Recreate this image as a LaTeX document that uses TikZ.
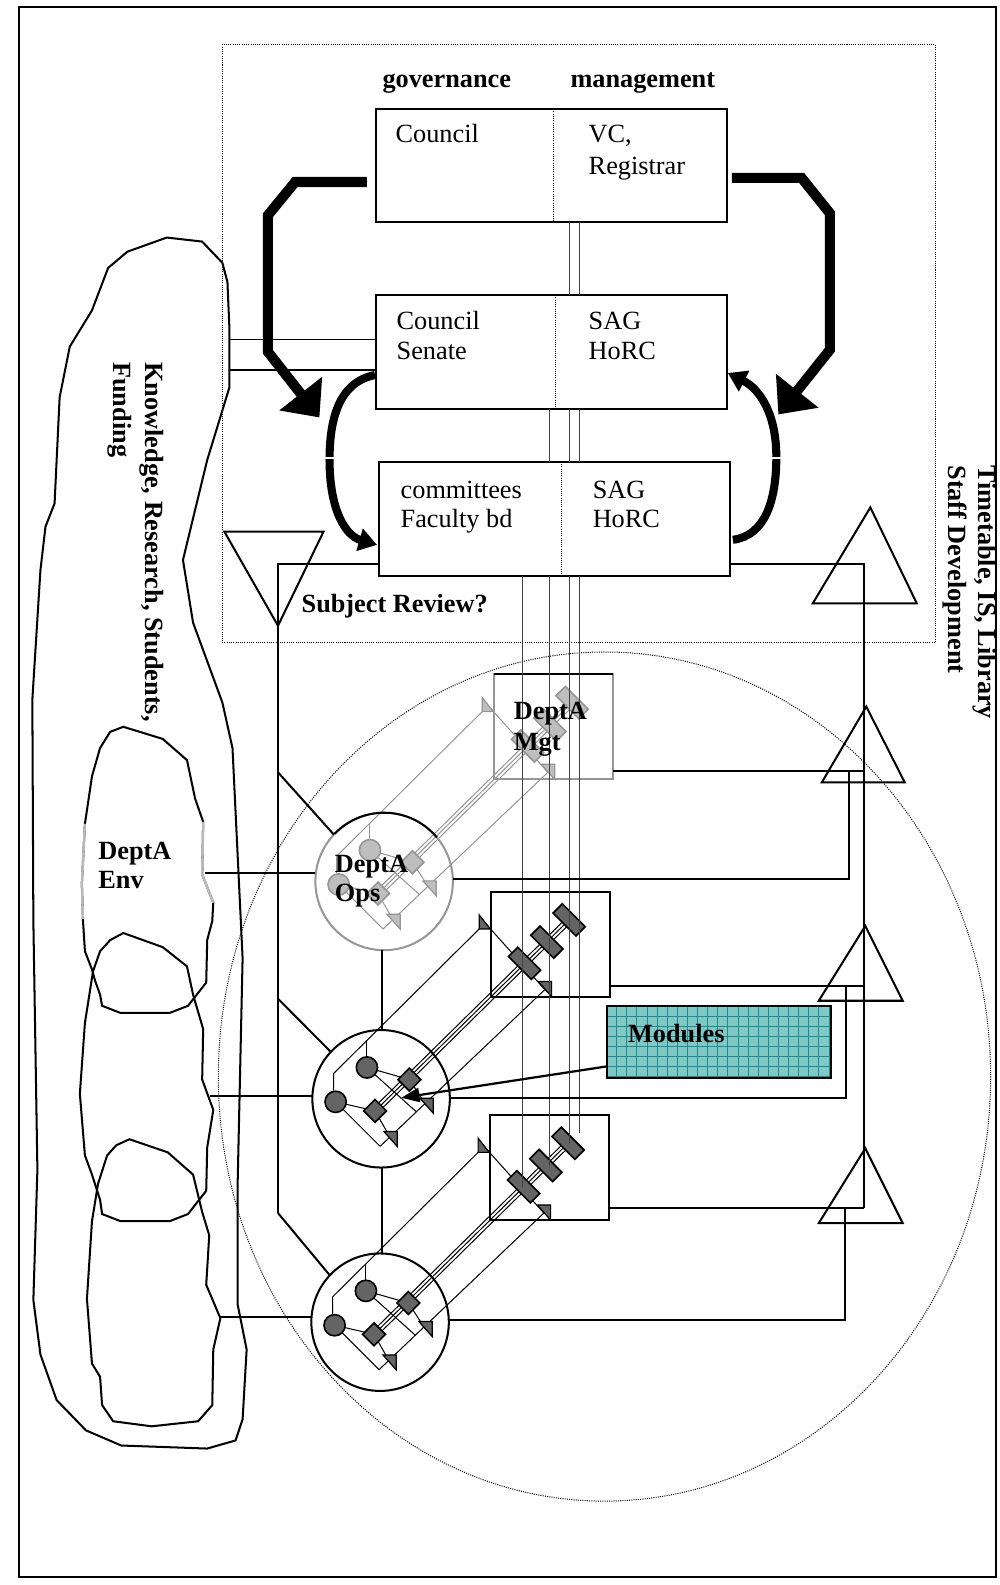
\documentclass[tikz,border=0pt]{standalone}
\usepackage{fontspec}
\setmainfont{Liberation Serif}
\usetikzlibrary{arrows.meta,fit,calc}

\definecolor{modfill}{RGB}{128,200,198}
\definecolor{modgrid}{RGB}{30,140,140}
\definecolor{glyphdark}{RGB}{100,100,100}
\definecolor{glyphpale}{RGB}{190,190,190}
\definecolor{linepale}{RGB}{150,150,150}

\tikzset{
  txt/.style={inner sep=0pt, anchor=base west, font=\fontsize{13pt}{15pt}\selectfont},
  btxt/.style={inner sep=0pt, anchor=base west, font=\fontsize{13pt}{15pt}\selectfont\bfseries},
  vtxt/.style={btxt, rotate=-90},
  boxframe/.style={draw, line width=1pt, inner sep=0pt, outer sep=0pt},
  conn/.style={line width=1pt},
  thinconn/.style={line width=0.8pt},
  dotline/.style={line width=0.5pt, dash pattern=on 0.5pt off 0.6pt},
  bigarrow/.style={line width=5pt, line join=miter, -{Triangle[length=15pt,width=26pt]}},
  curvearrow/.style={line width=4pt, -{Triangle[length=9pt,width=11pt]}},
  stackline/.style={line width=0.5pt, draw=black!75},
  opentri/.style={draw, line width=1pt, line join=miter},
  blob/.style={draw, line width=1pt, line join=miter},
  gl/.style={line width=0.8pt, inner sep=0pt, outer sep=0pt},
}

% One department: operations circle with its management box above right.
% #1 name prefix, #2 circle centre, #3 glyph fill, #4 glyph/line colour, #5 frame colour
\newcommand{\deptunit}[5]{%
  \begin{scope}[shift={#2}]
    \node[boxframe, draw=#5, fill=white, minimum width=58.5pt, minimum height=52pt] (#1box) at (167.5,-153) {};
    \node[boxframe, draw=#5, fill=white, circle, minimum size=68pt] (#1circ) at (0,0) {};
    \begin{scope}[line width=0.5pt, #4]
      \draw (-47,-8) -- (-47,-25) -- (97,-168);
      \draw (-14,-42) -- (-14,-58);
      \draw (102,-175) -- (162,-108);
      \draw (-1,47) -- (162,-108);
      \draw (-14,-31) -- (35,13);
      \draw (-45,3) -- (-1,47);
      \draw (-14,-31) -- (28,-19);
      \draw (-45,3) -- (-6,12);
      \draw (28,-19) -- (45,7);
      \draw (-6,12) -- (10,40);
      \foreach \o in {-2.2,0,2.2}
        \draw[shift={(\o,\o)}] (-6,12) -- (186,-177);
    \end{scope}
    \node[gl, draw=#4, fill=#3, circle, minimum size=10.5pt] (#1a) at (-14,-31) {};
    \node[gl, draw=#4, fill=#3, circle, minimum size=10.5pt] (#1b) at (-45,3) {};
    \node[gl, draw=#4, fill=#3, minimum size=8pt, rotate=45] (#1c) at (28,-19) {};
    \node[gl, draw=#4, fill=#3, minimum size=8pt, rotate=45] (#1d) at (-6,12) {};
    \node[gl, draw=#4, fill=#3, minimum width=16pt, minimum height=6.5pt, rotate=-45] (#1r1) at (142,-134) {};
    \node[gl, draw=#4, fill=#3, minimum width=16pt, minimum height=6.5pt, rotate=-45] (#1r2) at (164,-155) {};
    \node[gl, draw=#4, fill=#3, minimum width=16pt, minimum height=6.5pt, rotate=-45] (#1r3) at (186,-177) {};
    \filldraw[draw=#4, fill=#3, line width=0.6pt] (97,-182) -- (97,-168) -- (108,-168) -- cycle;
    \filldraw[draw=#4, fill=#3, line width=0.6pt] (155.5,-116) -- (168.7,-116) -- (168.7,-101) -- cycle;
    \filldraw[draw=#4, fill=#3, line width=0.6pt] (38.4,-0.6) -- (51.6,-0.6) -- (51.6,14.2) -- cycle;
    \filldraw[draw=#4, fill=#3, line width=0.6pt] (2.8,32.4) -- (16,32.4) -- (16,47.2) -- cycle;
  \end{scope}}

\begin{document}
\begin{tikzpicture}[x=0.5pt, y=-0.5pt]
\useasboundingbox (0,0) rectangle (989,1568);
\draw[line width=1pt] (19,7) rectangle (985,1560);

% environment blobs
\draw[blob] (126,249) -- (165,235) -- (200,239) -- (220,260) -- (225,279) -- (227,326) -- (227,383) -- (220,406) -- (205,455) -- (181,554) -- (191,616) -- (220,695) -- (230,740) -- (240,948) -- (235,1175) -- (235,1290) -- (244,1335) -- (240,1404) -- (233,1425) -- (205,1433) -- (120,1430) -- (85,1415) -- (56,1385) -- (40,1340) -- (33,1286) -- (37,1157) -- (33,911) -- (32,692) -- (40,564) -- (45,521) -- (54,498) -- (59,393) -- (69,343) -- (91,307) -- (107,265) -- cycle;
\draw[blob] (109,724) -- (122,719) -- (161,731) -- (185,752) -- (193,790) -- (201,813) -- (200,865) -- (211,893) -- (210,911) -- (205,930) -- (204,972) -- (186,995) -- (168,1002) -- (119,1002) -- (101,995) -- (99,984) -- (94,970) -- (91,959) -- (84,941) -- (82,909) -- (81,874) -- (84,815) -- (91,768) -- (99,740) -- cycle;
\draw[line width=1.2pt, gray!55] (84,815) -- (81,874) -- (82,909);
\draw[line width=1.2pt, gray!55] (201,813) -- (200,865) -- (211,893);
\draw[blob] (109,930) -- (122,923) -- (161,937) -- (185,956) -- (191,984) -- (201,1018) -- (200,1068) -- (211,1098) -- (205,1135) -- (204,1178) -- (186,1201) -- (168,1208) -- (119,1208) -- (101,1201) -- (99,1187) -- (91,1162) -- (84,1143) -- (79,1082) -- (84,1012) -- (92,961) -- (99,941) -- cycle;
\draw[blob] (115,1133) -- (128,1127) -- (166,1140) -- (191,1162) -- (200,1199) -- (207,1222) -- (204,1271) -- (218,1304) -- (211,1335) -- (210,1390) -- (196,1406) -- (150,1411) -- (112,1406) -- (101,1390) -- (99,1362) -- (91,1349) -- (86,1285) -- (91,1208) -- (97,1171) -- (106,1143) -- cycle;

\node[vtxt] (kn1) at (144,358) {Knowledge, Research, Students,};
\node[vtxt] (kn2) at (112,358) {Funding};
\node[btxt] (env1) at (97,850) {DeptA};
\node[btxt] (env2) at (97,879) {Env};

% dotted boundaries
\draw[dotline] (220,44) rectangle (925,636);
\draw[dotline] (598,1065) ellipse [x radius=382, y radius=420];

% governance / management boxes
\node[btxt] (hgov) at (378,87) {governance};
\node[btxt] (hmgt) at (564,87) {management};
\node[boxframe, fit={(372,108)(719,220)}] (box1) {};
\node[boxframe, fit={(372,292)(719,405)}] (box2) {};
\node[boxframe, fit={(375,457)(722,570)}] (box3) {};
\draw[dotline] (548,0 |- box1.north) -- (548,0 |- box1.south);
\draw[dotline] (550,0 |- box2.north) -- (550,0 |- box2.south);
\draw[dotline] (555,0 |- box3.north) -- (555,0 |- box3.south);
\node[txt] (t1a) at (391,141) {Council};
\node[txt] (t1b) at (582,141) {VC,};
\node[txt] (t1c) at (582,173) {Registrar};
\node[txt] (t2a) at (392,326) {Council};
\node[txt] (t2b) at (392,356) {Senate};
\node[txt] (t2c) at (582,326) {SAG};
\node[txt] (t2d) at (582,356) {HoRC};
\node[txt] (t3a) at (396,493) {committees};
\node[txt] (t3b) at (396,522) {Faculty bd};
\node[txt] (t3c) at (586,493) {SAG};
\node[txt] (t3d) at (586,522) {HoRC};

% links between the boxes
\draw[stackline] (563,0 |- box1.south) -- (563,0 |- box2.north);
\draw[stackline] (573,0 |- box1.south) -- (573,0 |- box2.north);
\draw[stackline] (544,0 |- box2.south) -- (544,0 |- box3.north);
\draw[stackline] (563,0 |- box2.south) -- (563,0 |- box3.north);
\draw[stackline] (573,0 |- box2.south) -- (573,0 |- box3.north);

% feedback arrows
\coordinate (la0) at (363,180);
\coordinate (la1) at (316,413);
\draw[bigarrow] (la0) -- (292,180) -- (265,213) -- (265,348) -- (la1);
\coordinate (ra0) at (724,176);
\coordinate (ra1) at (770,410);
\draw[bigarrow] (ra0) -- (793,176) -- (821,211) -- (821,346) -- (ra1);
\draw[curvearrow] (371,371) .. controls (335,378) and (326,415) .. (326,455) .. controls (326,505) and (342,530) .. (373,539);
\draw[curvearrow] (725,534) .. controls (757,530) and (768,495) .. (768,452) .. controls (768,410) and (752,385) .. (720,369);
\draw[white, line width=1pt] (318,453) -- (334,453);
\draw[white, line width=1pt] (760,453) -- (776,453);

% environment inputs to Senate
\draw[thinconn] (227,336) -- (box2.west |- 227,336);
\draw[thinconn] (227,366) -- (box2.west |- 227,366);

% department units
\deptunit{u1}{(380,872)}{glyphpale}{linepale}{linepale}
\deptunit{u2}{(377,1087)}{glyphdark}{black}{black}
\deptunit{u3}{(376,1308)}{glyphdark}{black}{black}
\draw[line width=1pt] (u1circ.136) arc[start angle=136, end angle=40, radius=34pt];
\draw[line width=1pt] (u1box.north west) -- (u1box.north east);

% management stack lines down to the department boxes
\draw[stackline] (517,0 |- box3.south) -- (517,0 |- u3r1.center);
\draw[stackline] (544,0 |- box3.south) -- (544,0 |- u3r2.center);
\draw[stackline] (563,0 |- box3.south) -- (563,0 |- u3r3.center);
\draw[stackline] (573,0 |- box3.south) -- (573,1121);

\node[btxt] (mg1) at (508,712) {DeptA};
\node[btxt] (mg2) at (508,742) {Mgt};
\node[btxt] (op1) at (331,863) {DeptA};
\node[btxt] (op2) at (331,892) {Ops};

% subject review branch (left)
\draw[opentri] (222,526) -- (320,526) -- (275,619) -- cycle;
\node[btxt] (srv) at (298,606) {Subject Review?};
\draw[conn] (box3.west |- 0,558) -- (275,558) -- (275,1200);
\draw[conn] (275,764) -- (u1circ.137);
\draw[conn] (275,988) -- (u2circ.137);
\draw[conn] (275,1200) -- (u3circ.137);
\draw[conn] (378,0 |- u1circ.south) -- (378,0 |- u2circ.north);
\draw[conn] (378,0 |- u2circ.south) -- (378,0 |- u3circ.north);
\draw[conn] (203,864) -- (u1circ.west |- 203,864);
\draw[conn] (208,1084) -- (u2circ.west |- 208,1084);
\draw[conn] (217,1303) -- (u3circ.west |- 217,1303);

% services branch (right)
\draw[conn] (box3.east |- 0,558) -- (855,558) -- (855,1195);
\draw[conn] (u1box.east |- 0,763) -- (855,763);
\draw[conn] (u1circ.east |- 0,870) -- (840,870) -- (840,763);
\draw[conn] (u2box.east |- 0,975) -- (855,975);
\draw[conn] (u2circ.east |- 0,1086) -- (837,1086) -- (837,975);
\draw[conn] (u3box.east |- 0,1195) -- (855,1195);
\draw[conn] (u3circ.east |- 0,1306) -- (836,1306) -- (836,1195);
\draw[opentri] (861,502) -- (907,597) -- (804,597) -- cycle;
\draw[opentri] (857,699) -- (895,774) -- (813,774) -- cycle;
\draw[opentri] (856,916) -- (893,990) -- (810,990) -- cycle;
\draw[opentri] (856,1136) -- (893,1210) -- (810,1210) -- cycle;
\node[vtxt] (tt1) at (968,460) {Timetable, IS, Library};
\node[vtxt] (tt2) at (938,460) {Staff Development};

% modules
\node[boxframe, fill=modfill, fit={(600,995)(822,1066)}] (modules) {};
\foreach \gx in {610,620,...,820}
  \draw[modgrid, line width=0.35pt] (\gx,995) -- (\gx,1066);
\foreach \gy in {1005,1015,...,1065}
  \draw[modgrid, line width=0.35pt] (600,\gy) -- (822,\gy);
\draw[line width=1pt] (modules.south west) rectangle (modules.north east);
\node[btxt] (modtxt) at (621,1031) {Modules};
\coordinate (modtip) at (397,1086);
\draw[line width=1.1pt, -{Triangle[length=9pt,width=7pt]}] (600,1055) -- (modtip);
\end{tikzpicture}
\end{document}
